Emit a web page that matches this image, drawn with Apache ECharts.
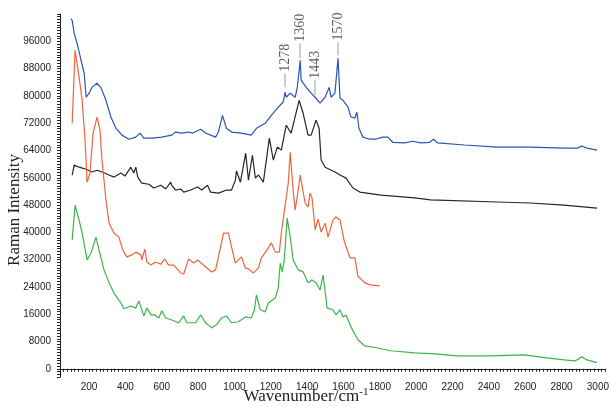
<!DOCTYPE html>
<html><head><meta charset="utf-8">
<script src="https://cdn.jsdelivr.net/npm/echarts@6/dist/echarts.min.js"></script>
<style>html,body{margin:0;padding:0;background:#fff}#c{width:612px;height:407px}</style>
</head><body><div id="c"></div>
<script>
// ---- data (wavenumber / cm-1, Raman intensity) ----
const blueWave = [101,107,118,134,156,173,184,200,216,243,265,293,320,348,381,419,457,480,501,547,600,655,676,710,748,770,814,841,896,912,934,956,984,1038,1093,1121,1170,1203,1241,1268,1279,1285,1307,1334,1345,1362,1367,1395,1422,1444,1471,1499,1521,1532,1553,1570,1581,1597,1625,1641,1663,1674,1685,1707,1745,1778,1816,1844,1871,1937,1981,2025,2074,2096,2118,2266,2447,2627,2814,2887,2912,2940,2995];
const blueInt  = [102700,102100,98300,95400,90400,86600,79600,80800,82500,83700,82500,78700,73800,70500,68500,67300,67900,69100,67600,67600,67900,68500,69400,69100,69400,69100,70200,69100,67900,69400,74300,70500,69400,69100,68500,70500,72000,74300,76700,78200,81100,79600,80800,79600,82200,90400,84600,82500,80800,79600,77900,79600,82500,79600,80800,91000,79300,78700,76700,73800,73500,75200,70500,67900,67300,67300,67900,67900,66400,66200,66700,66200,66400,67300,66200,65600,65000,65000,64700,64700,65300,64700,64100];

const blackWave = [107,118,145,184,216,244,271,310,337,375,397,430,441,446,457,468,490,529,556,595,622,649,655,677,704,721,759,797,820,852,868,912,956,984,1005,1011,1033,1062,1077,1099,1115,1132,1159,1192,1214,1236,1258,1285,1312,1356,1378,1405,1422,1449,1466,1477,1499,1553,1581,1614,1652,1690,1805,1992,2079,2447,2627,2814,2995];
const blackInt  = [56800,59700,59100,58500,57700,58200,57700,56800,56200,57400,56500,59100,59400,57400,59100,56200,54400,54100,53000,53800,52700,54700,53800,52400,52700,51800,52400,53300,52400,53800,51800,51500,52400,52400,55300,58000,54700,63200,55300,62600,55900,56800,54700,67600,61200,65000,64100,71400,69100,78700,74900,68500,68500,72900,70500,61200,59100,57700,56800,55900,53000,51800,50900,50100,49500,48900,48600,48000,47100];

const redWave = [107,123,145,162,178,189,205,222,244,260,271,293,310,337,364,386,408,436,458,485,490,507,518,540,567,595,616,638,666,704,721,748,775,797,841,874,896,912,940,967,984,1005,1038,1060,1077,1104,1132,1148,1186,1203,1225,1247,1258,1274,1285,1296,1307,1323,1334,1351,1362,1373,1389,1405,1416,1427,1444,1460,1477,1499,1515,1542,1559,1570,1581,1603,1636,1663,1679,1718,1745,1800];
const redInt  = [72000,93400,85500,78700,67000,54700,57400,69100,73800,70000,61200,49500,42700,39800,38600,34800,32800,33400,34200,33400,31900,35100,31300,30400,31300,30700,32200,30400,30400,28100,27800,32200,31000,31900,29900,28400,29000,32800,39800,39800,35700,31000,32800,29600,29300,28100,29600,32500,35400,36900,34200,34200,39800,46000,46500,54400,63500,52400,46500,52400,56800,53300,48600,47400,51500,50100,40700,43900,40100,42700,38600,43600,44500,44200,43600,37700,32500,32500,27200,25200,24600,24300];

const greenWave = [107,123,145,162,189,211,238,255,282,310,337,375,392,430,457,474,501,518,540,562,584,600,622,655,693,721,737,786,814,841,874,901,929,956,984,1022,1060,1093,1110,1121,1142,1170,1186,1225,1241,1252,1263,1274,1290,1307,1323,1351,1378,1405,1427,1449,1471,1488,1510,1542,1559,1581,1597,1614,1641,1679,1718,1789,1860,1992,2101,2227,2408,2595,2721,2814,2874,2912,2940,2995];
const greenInt  = [37800,48000,43600,39800,31900,34000,38600,34800,29000,25200,22200,19300,17600,18400,17800,19900,15500,17800,15800,15800,14900,17000,14900,14300,13500,15500,13500,13500,15800,13500,12000,12900,14900,15500,13500,13800,15200,14900,17300,21700,17300,16700,19300,20800,23700,31000,28400,31900,44200,38600,31900,29000,28400,25200,26000,25200,23100,27500,17800,17300,15800,17300,15200,15800,12300,8500,6700,6100,5300,4700,4400,3800,3800,4100,3200,2600,2300,3500,2600,1800];

// peak annotations on the top spectrum
const peakLabels = ['1278','1360','1443','1570'];
const peakWave   = [1278,1360,1443,1570];
const lineLow    = [82500,91000,80200,91900];
const lineHigh   = [86600,95400,84600,95700];
const textBase   = [87100,95900,85000,96200];

const yTicks = [0,8000,16000,24000,32000,40000,48000,56000,64000,72000,80000,88000,96000];
const xTicks = [200,400,600,800,1000,1200,1400,1600,1800,2000,2200,2400,2600,2800,3000];

const zip = (a,b)=>a.map((v,i)=>[v,b[i]]);

const chart = echarts.init(document.getElementById('c'));
const lineS = (name,w,v,color)=>({
  name, type:'line', data: zip(w,v), showSymbol:false, symbol:'none',
  lineStyle:{color, width:1.2}, itemStyle:{color}, silent:true, z:3
});
const blue = lineS('blue', blueWave, blueInt, '#2b54b3');
blue.markLine = {
  silent:true, symbol:['none','none'],
  lineStyle:{color:'#bdbdbd', width:1.5, type:'solid'},
  label:{show:false},
  data: peakWave.map((w,i)=>[{coord:[w,lineLow[i]]},{coord:[w,lineHigh[i]]}])
};
chart.setOption({
  animation:false,
  grid:{left:60, right:4, top:14, bottom:30},
  xAxis:{
    type:'value', min:40, max:3040, interval:20,
    axisLine:{show:true, lineStyle:{color:'#222', width:1}},
    axisTick:{show:true, length:3, inside:false, lineStyle:{color:'#222'}},
    splitLine:{show:false},
    axisLabel:{interval:0, hideOverlap:false, margin:5, color:'#222', fontFamily:'Liberation Sans', fontSize:10,
      formatter:v=> xTicks.includes(v) ? String(v) : ''}
  },
  yAxis:{
    type:'value', min:-2400, max:104000, interval:800,
    axisLine:{show:true, lineStyle:{color:'#222', width:1}},
    axisTick:{show:true, length:3, lineStyle:{color:'#222'}},
    splitLine:{show:false},
    axisLabel:{margin:9, color:'#222', fontFamily:'Liberation Sans', fontSize:10,
      formatter:v=> yTicks.includes(v) ? String(v) : ''}
  },
  series:[
    blue,
    lineS('black', blackWave, blackInt, '#262626'),
    lineS('red', redWave, redInt, '#f0643c'),
    lineS('green', greenWave, greenInt, '#3cb54a'),
    {
      type:'scatter', symbolSize:0, silent:true, z:5,
      data: peakWave.map((w,i)=>({value:[w,textBase[i]], name:peakLabels[i]})),
      label:{show:true, position:'inside', rotate:90, align:'left', verticalAlign:'middle',
        formatter:p=>p.name, color:'#333', fontFamily:'Liberation Serif', fontSize:14}
    }
  ],
  graphic:[
    {type:'text', x:15, y:210, rotation:Math.PI/2,
      style:{text:'Raman Intensity', fill:'#222', font:'17px "Liberation Serif"', align:'center', verticalAlign:'middle'}},
    {type:'text', x:306, y:397,
      style:{text:'Wavenumber/cm{s|-1}', fill:'#222', font:'17px "Liberation Serif"', align:'center', verticalAlign:'middle',
        rich:{s:{fontSize:11, fontFamily:'Liberation Serif', verticalAlign:'top', padding:[0,0,10,0]}}}}
  ]
});
</script></body></html>
